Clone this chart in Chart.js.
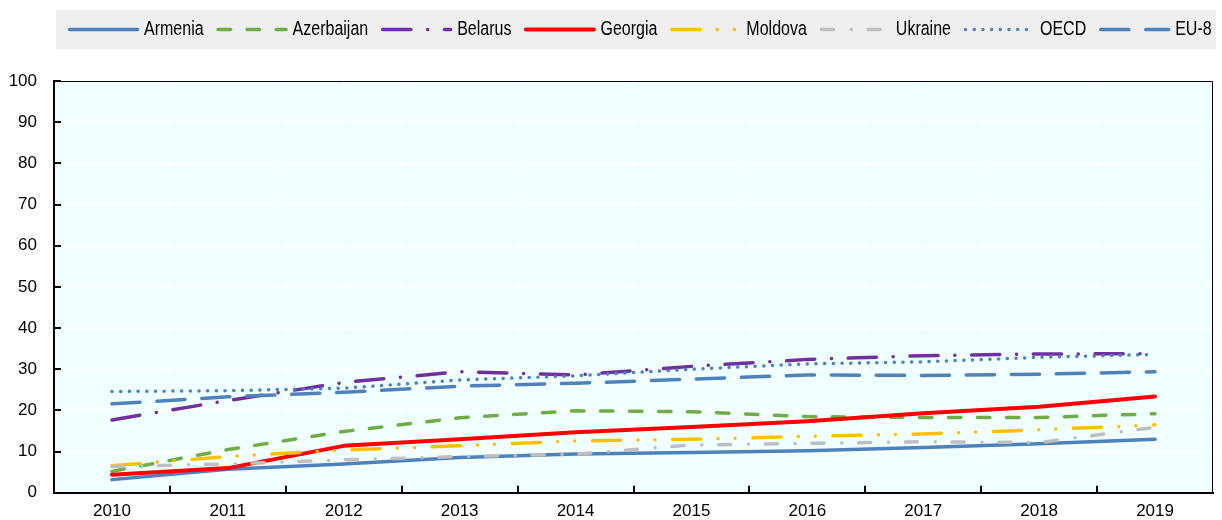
<!DOCTYPE html>
<html><head><meta charset="utf-8">
<script src="https://cdn.jsdelivr.net/npm/chart.js@4/dist/chart.umd.min.js"></script>
<style>html,body{margin:0;padding:0;background:#fff}#wrap{width:1222px;height:520px;position:relative}</style>
</head><body><div id="wrap"><canvas id="c"></canvas></div>
<script>
// ---- data ----
const years = ['2010','2011','2012','2013','2014','2015','2016','2017','2018','2019'];
const seriesNames = ['Armenia','Azerbaijan','Belarus','Georgia','Moldova','Ukraine','OECD','EU-8'];
const armenia    = [3.2, 5.7, 7.0, 8.6, 9.4, 9.8, 10.2, 11.0, 11.9, 13.0];
const azerbaijan = [5.2, 10.5, 14.9, 18.2, 19.9, 19.7, 18.5, 18.3, 18.3, 19.2];
const belarus    = [17.7, 22.4, 26.8, 29.4, 28.6, 30.7, 32.4, 33.3, 33.7, 33.8];
const georgia    = [4.4, 6.0, 11.4, 13.0, 14.7, 16.0, 17.4, 19.3, 20.9, 23.4];
const moldova    = [6.6, 8.8, 10.4, 11.4, 12.6, 13.0, 13.7, 14.3, 15.3, 16.5];
const ukraine    = [6.4, 7.0, 8.0, 8.8, 9.4, 11.6, 12.0, 12.4, 12.2, 15.9];
const oecd       = [24.6, 24.8, 25.4, 27.4, 28.4, 30.0, 31.3, 31.8, 32.9, 33.6];
const eu8        = [21.6, 23.3, 24.4, 25.9, 26.6, 27.6, 28.6, 28.5, 28.8, 29.4];
const yTickValues = [0,10,20,30,40,50,60,70,80,90,100];

// ---- styles ----
const seriesValues = [armenia, azerbaijan, belarus, georgia, moldova, ukraine, oecd, eu8];
const styles = [
  {color:'#4F81BD', width:3.5, dash:[]},
  {color:'#70AD47', width:3.5, dash:[12.5,16.5]},
  {color:'#7030A0', width:3.5, dash:[28.2,16.7,0.1,16.7]},
  {color:'#FF0000', width:4,   dash:[]},
  {color:'#FFC000', width:3.5, dash:[28.2,17.2,0.1,16.9,0.1,17.7]},
  {color:'#BFBFBF', width:3.5, dash:[12.2,17.7,0.1,16.7]},
  {color:'#4F81BD', width:3.5, dash:[0.1,8.6]},
  {color:'#4F81BD', width:3.5, dash:[28.2,16.8]}
];

function hasFont(f){
  const c=document.createElement('canvas').getContext('2d'); const t='Armenia Azerbaijan 2019';
  c.font='20px monospace'; const m=c.measureText(t).width;
  c.font='20px "'+f+'", monospace'; const a=c.measureText(t).width;
  c.font='20px serif'; const s=c.measureText(t).width;
  c.font='20px "'+f+'", serif'; const b=c.measureText(t).width;
  return a!==m || b!==s;
}
const narrowOK = hasFont('Liberation Sans Narrow');
const legendFont = narrowOK ? '20px "Liberation Sans Narrow"' : '20px "Liberation Sans", Arial, sans-serif';
const legendScale = narrowOK ? 1 : 0.8;
const tickFont = {family:'"Liberation Sans", Arial, sans-serif', size:17};

const bgPlugin = {
  id:'bg',
  beforeDraw(chart){
    const {ctx, chartArea:a} = chart;
    ctx.save(); ctx.fillStyle='#F0FFFF'; ctx.fillRect(a.left, a.top, a.right-a.left, a.bottom-a.top); ctx.restore();
  }
};

const framePlugin = {
  id:'frame',
  afterDraw(chart){
    const {ctx, chartArea:a, scales} = chart;
    ctx.save();
    ctx.strokeStyle='#000'; ctx.lineWidth=1;
    ctx.beginPath(); ctx.moveTo(a.left, a.top+0.5); ctx.lineTo(a.right-0.5, a.top+0.5); ctx.lineTo(a.right-0.5, a.bottom); ctx.stroke();
    ctx.lineWidth=2;
    ctx.beginPath();
    scales.y.ticks.forEach(t=>{ const y=Math.round(scales.y.getPixelForValue(t.value)); ctx.moveTo(a.left, y); ctx.lineTo(a.left+7, y); });
    for(let i=1;i<years.length;i++){
      const x=Math.round((scales.x.getPixelForValue(i-1)+scales.x.getPixelForValue(i))/2);
      ctx.moveTo(x, a.bottom); ctx.lineTo(x, a.bottom-7);
    }
    ctx.stroke();
    ctx.restore();
  }
};

const legendPlugin = {
  id:'customLegend',
  afterDraw(chart){
    const ctx = chart.ctx;
    ctx.save();
    ctx.fillStyle='#EFEFEF';
    ctx.fillRect(56, 10, 1160, 39);
    let x = 68; const y = 29.5;
    chart.data.datasets.forEach(ds=>{
      ctx.save();
      ctx.strokeStyle=ds.borderColor; ctx.lineWidth=ds.borderWidth; ctx.lineCap='round';
      ctx.setLineDash(ds.borderDash||[]);
      ctx.beginPath(); ctx.moveTo(x+1.5, y); ctx.lineTo(x+69.5, y); ctx.stroke();
      ctx.restore();
      ctx.font = legendFont; ctx.fillStyle='#000'; ctx.textBaseline='middle'; ctx.textAlign='left';
      const tx = x+76;
      const w = ctx.measureText(ds.label).width*legendScale;
      ctx.save(); ctx.translate(tx, y); ctx.scale(legendScale,1); ctx.fillText(ds.label, 0, 0); ctx.restore();
      x = tx + w + 13;
    });
    ctx.restore();
  }
};

const datasets = seriesValues.map((vals,i)=>({
  label: seriesNames[i], data: vals,
  borderColor: styles[i].color, backgroundColor: styles[i].color,
  borderWidth: styles[i].width, borderDash: styles[i].dash,
  borderCapStyle:'round', borderJoinStyle:'round',
  pointRadius:0, pointHoverRadius:0, tension:0, fill:false,
  order: seriesNames.length - i
}));

new Chart(document.getElementById('c'), {
  type:'line',
  data:{labels: years, datasets},
  options:{
    responsive:true, maintainAspectRatio:false, animation:false, events:[],
    layout:{padding:{top:81, right:9, left:0, bottom:0}},
    plugins:{legend:{display:false}, tooltip:{enabled:false}},
    scales:{
      x:{
        type:'category', offset:true,
        grid:{offset:true, color:'#FFFFFF', lineWidth:1, drawTicks:false},
        border:{color:'#000', width:2},
        ticks:{color:'#000', font:tickFont, padding:8, maxRotation:0, autoSkip:false},
        afterFit(s){ s.height = 27; }
      },
      y:{
        min:0, max:100,
        grid:{color:'#FFFFFF', lineWidth:1, drawTicks:false},
        border:{color:'#000', width:2},
        ticks:{color:'#000', font:tickFont, padding:17, stepSize:10},
        afterBuildTicks(s){ s.ticks = yTickValues.map(v=>({value:v})); },
        afterFit(s){ s.width = 54; }
      }
    }
  },
  plugins:[bgPlugin, framePlugin, legendPlugin]
});
</script>
</body></html>
